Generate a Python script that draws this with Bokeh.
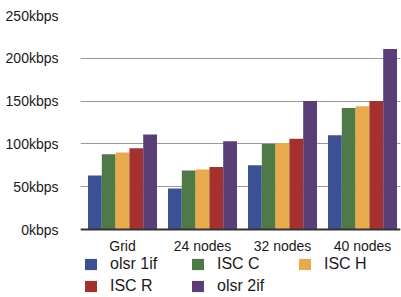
from bokeh.plotting import figure
from bokeh.models import Range1d, FixedTicker, Legend, LegendItem, ColumnDataSource, Span
from bokeh.core.properties import value
from bokeh.embed import file_html
from bokeh.resources import INLINE

categories = ["Grid", "24 nodes", "32 nodes", "40 nodes"]
series_names = ["olsr 1if", "ISC C", "ISC H", "ISC R", "olsr 2if"]
olsr_1if = [63, 48, 75, 110]
isc_c = [88, 69, 100, 142]
isc_h = [90, 70, 101, 144]
isc_r = [95, 73, 106, 150]
olsr_2if = [111, 103, 150, 211]
y_ticks = [0, 50, 100, 150, 200, 250]
y_tick_labels = ["0kbps", "50kbps", "100kbps", "150kbps", "200kbps", "250kbps"]

series_values = [olsr_1if, isc_c, isc_h, isc_r, olsr_2if]
colors = ["#3c5192", "#4f7a48", "#e9aa4c", "#a3322f", "#5a3e77"]

FONT = "Liberation Sans"
bar_w = 0.1725

p = figure(width=401, height=297, output_backend="svg", toolbar_location=None,
           x_range=Range1d(-0.025, 3.975), y_range=Range1d(-79.4, 250),
           x_axis_location=None,
           min_border_left=80, min_border_right=1, min_border_top=15, min_border_bottom=0)
p.outline_line_color = None
p.background_fill_color = "#ffffff"
p.border_fill_color = "#ffffff"

cat_pos = [i + 0.5 for i in range(len(categories))]
items = []
for k, (name, vals, col) in enumerate(zip(series_names, series_values, colors)):
    xs = [c + (k - 2) * bar_w for c in cat_pos]
    src = ColumnDataSource(dict(x=xs, top=vals))
    r = p.vbar(x="x", top="top", bottom=0, width=bar_w, source=src,
               fill_color=col, line_color=None)
    items.append(LegendItem(label=name, renderers=[r]))

# x axis line and category labels
p.add_layout(Span(location=0, dimension="width", line_color="#333333", line_width=2))
p.text(x=cat_pos, y=[0] * len(cat_pos), text=categories, y_offset=8,
       text_align="center", text_baseline="top", text_font=value(FONT),
       text_font_size="14px", text_color="#1a1a1a")

p.yaxis.ticker = FixedTicker(ticks=y_ticks)
p.yaxis.major_label_overrides = {t: lab for t, lab in zip(y_ticks, y_tick_labels)}
p.yaxis.axis_line_color = None
p.yaxis.major_tick_line_color = None
p.yaxis.minor_tick_line_color = None
p.yaxis.major_label_text_font = FONT
p.yaxis.major_label_text_font_size = "14px"
p.yaxis.major_label_text_color = "#1a1a1a"
p.yaxis.major_label_standoff = 16

p.xgrid.grid_line_color = None
p.ygrid.ticker = FixedTicker(ticks=y_ticks)
p.ygrid.grid_line_color = "#9a9a9a"
p.ygrid.grid_line_width = 1

legend = Legend(items=items, orientation="horizontal", ncols=3,
                location=(3, 2), padding=0, margin=0, spacing=4,
                glyph_width=15, glyph_height=14, label_height=14,
                label_standoff=12, label_width=76,
                label_text_font=FONT, label_text_font_size="16px",
                label_text_color="#1a1a1a",
                border_line_color=None, background_fill_alpha=0)
p.add_layout(legend, "center")

open("out.html", "w").write(file_html(p, INLINE))
